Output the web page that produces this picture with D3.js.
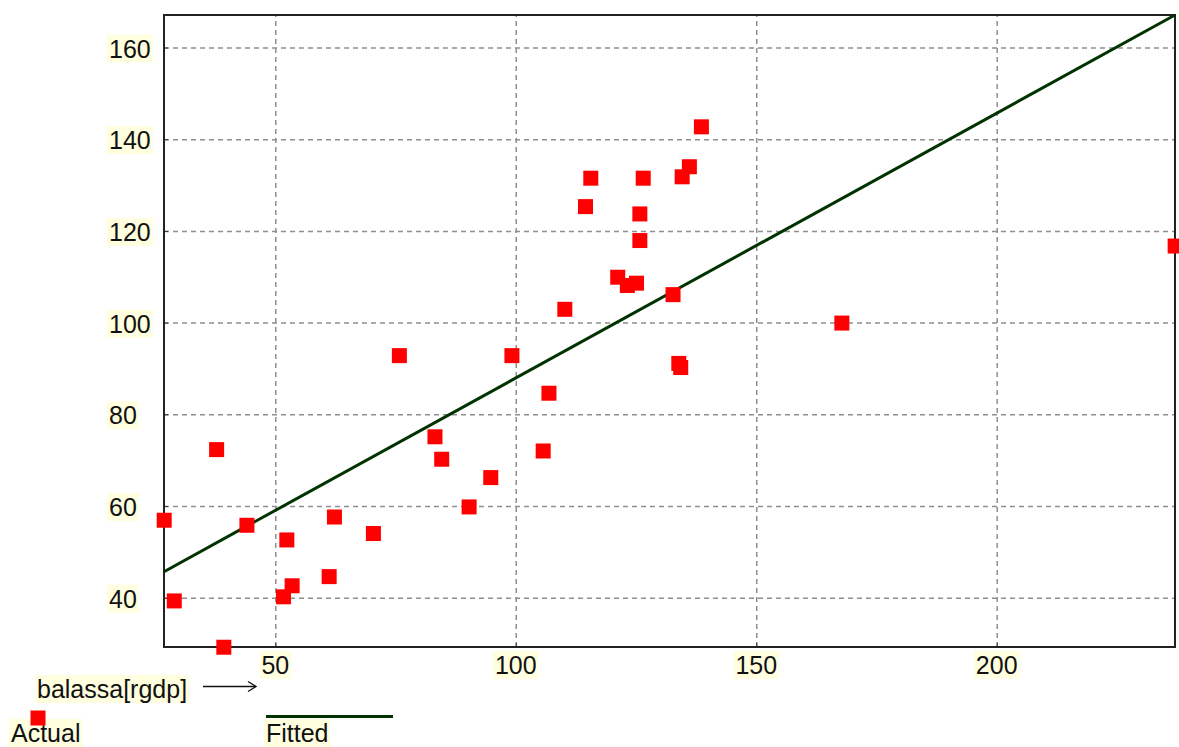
<!DOCTYPE html>
<html>
<head>
<meta charset="utf-8">
<script src="https://cdn.jsdelivr.net/npm/d3@7"></script>
<style>
  html, body { margin: 0; padding: 0; background: #ffffff; }
  svg { display: block; }
  text { font-family: "Liberation Sans", Arial, sans-serif; font-size: 25px; fill: #111; }
</style>
</head>
<body>
<script>
// ---- data ----
const actualX = [26.9, 29.0, 37.8, 39.3, 44.1, 52.4, 51.7, 53.5, 61.2, 62.3, 70.4, 75.8, 83.2, 84.6, 90.3, 94.8, 99.2,
                 105.7, 106.9, 110.2, 114.5, 115.6, 121.2, 123.2, 125.1, 125.8, 125.8, 126.5, 132.7, 133.9, 134.3,
                 134.6, 136.1, 138.6, 167.8, 237.1];
const actualY = [56.9, 39.3, 72.3, 29.2, 55.8, 52.6, 40.2, 42.6, 44.6, 57.6, 54.0, 92.8, 75.1, 70.2, 59.8, 66.2, 92.8,
                 72.0, 84.6, 102.9, 125.3, 131.5, 109.9, 108.1, 108.6, 117.9, 123.7, 131.5, 106.1, 91.1, 90.2,
                 131.8, 134.0, 142.7, 99.9, 116.7];
const fittedX = [26.86, 237.07];
const fittedY = [45.67, 167.09];
const xTicks = [50, 100, 150, 200];
const yTicks = [40, 60, 80, 100, 120, 140, 160];
const xDomain = [26.86, 237.07];
const yDomain = [29.25, 167.09];
const xLabel = "balassa[rgdp]";
const legendNames = ["Actual", "Fitted"];

// ---- layout ----
const W = 1179, H = 747;
const plot = { left: 164, top: 15, right: 1175, bottom: 647 };
const labelBg = "#ffffe0";

const svg = d3.select("body").append("svg").attr("width", W).attr("height", H);

const x = d3.scaleLinear().domain(xDomain).range([plot.left, plot.right]);
const y = d3.scaleLinear().domain(yDomain).range([plot.bottom, plot.top]);

// gridlines via axes
const gridX = svg.append("g").attr("transform", `translate(0,${plot.bottom})`)
  .call(d3.axisBottom(x).tickValues(xTicks).tickSize(-(plot.bottom - plot.top)).tickFormat(""));
gridX.select(".domain").remove();
gridX.selectAll("line").attr("stroke", "#8e8e8e").attr("stroke-width", 1.5).attr("stroke-dasharray", "5,4");

const gridY = svg.append("g").attr("transform", `translate(${plot.left},0)`)
  .call(d3.axisLeft(y).tickValues(yTicks).tickSize(-(plot.right - plot.left)).tickFormat(""));
gridY.select(".domain").remove();
gridY.selectAll("line").attr("stroke", "#8e8e8e").attr("stroke-width", 1.5).attr("stroke-dasharray", "5,4");

// small solid ticks inside frame
const tickX = svg.append("g").attr("transform", `translate(0,${plot.bottom})`)
  .call(d3.axisBottom(x).tickValues(xTicks).tickSize(-4).tickFormat(""));
tickX.select(".domain").remove();
tickX.selectAll("line").attr("stroke", "#333").attr("stroke-width", 1);
const tickY = svg.append("g").attr("transform", `translate(${plot.left},0)`)
  .call(d3.axisLeft(y).tickValues(yTicks).tickSize(-4).tickFormat(""));
tickY.select(".domain").remove();
tickY.selectAll("line").attr("stroke", "#333").attr("stroke-width", 1);

// frame
svg.append("rect")
  .attr("x", plot.left).attr("y", plot.top)
  .attr("width", plot.right - plot.left).attr("height", plot.bottom - plot.top)
  .attr("fill", "none").attr("stroke", "#222").attr("stroke-width", 2);

// fitted line
const fitted = fittedX.map((v, i) => [v, fittedY[i]]);
svg.append("path")
  .datum(fitted)
  .attr("d", d3.line().x(d => x(d[0])).y(d => y(d[1])))
  .attr("fill", "none").attr("stroke", "#003300").attr("stroke-width", 3);

// actual points
const pts = actualX.map((v, i) => [v, actualY[i]]);
const ms = 15;
svg.append("g").selectAll("rect").data(pts).join("rect")
  .attr("x", d => x(d[0]) - ms / 2).attr("y", d => y(d[1]) - ms / 2)
  .attr("width", ms).attr("height", ms)
  .attr("fill", "#ff0000");

// label helper with pale yellow background
function label(g, txt, tx, ty, anchor) {
  const grp = g.append("g");
  const bg = grp.append("rect").attr("fill", labelBg);
  const t = grp.append("text").attr("x", tx).attr("y", ty).attr("text-anchor", anchor || "start").text(txt);
  const b = t.node().getBBox();
  bg.attr("x", b.x - 2).attr("y", b.y).attr("width", b.width + 4).attr("height", Math.min(b.height, H - b.y));
  return grp;
}

const labels = svg.append("g");
yTicks.forEach(v => label(labels, String(v), 109, y(v) + 10, "start"));
xTicks.forEach(v => label(labels, String(v), x(v), 674, "middle"));

// x-axis name with arrow
label(labels, xLabel, 37, 698, "start");
const ay = 686.5;
svg.append("line").attr("x1", 203).attr("x2", 256).attr("y1", ay).attr("y2", ay)
  .attr("stroke", "#111").attr("stroke-width", 1.3);
svg.append("path").attr("d", `M${248},${ay - 5} L${256},${ay} L${248},${ay + 5}`)
  .attr("fill", "none").attr("stroke", "#111").attr("stroke-width", 1.3);

// legend
svg.append("rect").attr("x", 38 - ms / 2).attr("y", 718 - ms / 2).attr("width", ms).attr("height", ms).attr("fill", "#ff0000");
label(labels, legendNames[0], 11, 742, "start");
svg.append("line").attr("x1", 266).attr("x2", 393).attr("y1", 716.5).attr("y2", 716.5)
  .attr("stroke", "#003300").attr("stroke-width", 3);
label(labels, legendNames[1], 266, 742, "start");
</script>
</body>
</html>
